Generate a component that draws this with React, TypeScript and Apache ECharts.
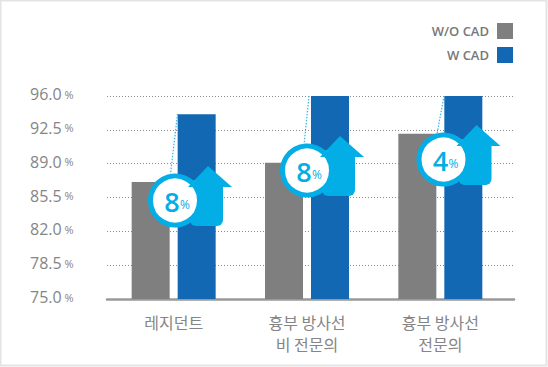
import React, { useEffect, useRef } from "react";
import * as echarts from "echarts";

const categories = ["레지던트", "흉부 방사선\n비 전문의", "흉부 방사선\n전문의"];
const seriesNames = ["W/O CAD", "W CAD"];
const withoutCad = [87.1, 89.1, 92.1];
const withCad = [94.1, 96, 96];
const improvement = ["8", "8", "4"];
const yTicks = [75, 78.5, 82, 85.5, 89, 92.5, 96];

const GRAY = "#807f80";
const BLUE = "#1268b2";
const CYAN = "#03aee6";
const TEXT = "#858585";
const Y_FONT = "'Open Sans', sans-serif";
const KR_FONT = "'Noto Sans CJK KR', sans-serif";

const badgeLayout = [
  { dx: 0, dy: 0, leader: [177.5, 114, 170.5, 174] },
  { dx: 132, dy: -30, leader: [309, 96, 304, 145] },
  { dx: 268.5, dy: -41, leader: [444, 96, 437, 134] },
];

function badge(i: number) {
  const { dx, dy, leader } = badgeLayout[i];
  const z = 100;
  return [
    {
      type: "line",
      silent: true,
      shape: { x1: leader[0], y1: leader[1], x2: leader[2], y2: leader[3] },
      style: { stroke: "#35b4e2", lineWidth: 1.2, lineDash: [1.5, 1.5] },
      z,
    },
    {
      type: "group",
      x: dx,
      y: dy,
      children: [
        { type: "rect", z: z + 1, shape: { x: 190, y: 180, width: 33, height: 46, r: [0, 0, 6, 6] }, style: { fill: CYAN } },
        { type: "circle", z: z + 2, shape: { cx: 175, cy: 200.5, r: 24.5 }, style: { fill: "#fff", stroke: CYAN, lineWidth: 5 } },
        { type: "polygon", z: z + 3, shape: { points: [[208, 166], [232, 187], [188, 187]] }, style: { fill: CYAN } },
        {
          type: "text",
          z: z + 4,
          x: 172,
          y: 201,
          style: {
            text: improvement[i],
            fill: CYAN,
            font: `600 27px ${Y_FONT}`,
            textAlign: "center",
            textVerticalAlign: "middle",
          },
        },
        {
          type: "text",
          z: z + 4,
          x: 185,
          y: 204,
          style: {
            text: "%",
            fill: CYAN,
            font: `400 12px ${Y_FONT}`,
            textAlign: "center",
            textVerticalAlign: "middle",
          },
        },
      ],
    },
  ];
}

export default function App() {
  const ref = useRef<HTMLDivElement>(null);
  useEffect(() => {
    document.body.style.margin = "0";
    const chart = echarts.init(ref.current!, null, { renderer: "svg" });
    chart.setOption({
      animation: false,
      backgroundColor: "#fff",
      grid: [
        { left: 107, top: 96, width: 407, height: 203 },
        { left: 107, top: 96, width: 400, height: 203 },
      ],
      legend: {
        data: seriesNames.map((name) => ({ name, icon: "rect" })),
        orient: "vertical",
        right: 35,
        top: 23,
        padding: 0,
        align: "right",
        itemWidth: 16,
        itemHeight: 16,
        itemGap: 8,
        textStyle: { color: "#777", fontFamily: Y_FONT, fontWeight: 600, fontSize: 13, padding: [0, 3, 0, 0] },
      },
      xAxis: [
        {
          gridIndex: 0,
          type: "value",
          min: 0,
          max: 1,
          axisLine: { show: true, onZero: false, lineStyle: { color: "#999", width: 2.5 } },
          axisTick: { show: false },
          axisLabel: { show: false },
          splitLine: { show: false },
        },
        {
          gridIndex: 1,
          type: "category",
          data: categories,
          axisLine: { show: false },
          axisTick: { show: false },
          axisLabel: {
            margin: 12,
            color: TEXT,
            fontFamily: KR_FONT,
            fontSize: 16,
            lineHeight: 22,
            interval: 0,
          },
        },
      ],
      yAxis: [
        {
          gridIndex: 0,
          type: "value",
          min: 75,
          max: 96,
          axisLine: { show: false },
          axisTick: { show: false, customValues: yTicks },
          splitLine: { show: true, lineStyle: { color: "#8a8a8a", type: [1, 2], width: 1 } },
          axisLabel: {
            customValues: yTicks,
            align: "left",
            margin: 77,
            padding: [0, 0, 4, 0],
            formatter: (v: number) => `{n|${v.toFixed(1)}}{p| %}`,
            rich: {
              n: { fontFamily: Y_FONT, fontSize: 16, color: TEXT },
              p: { fontFamily: Y_FONT, fontSize: 11, color: TEXT },
            },
          },
        },
        {
          gridIndex: 1,
          type: "value",
          min: 75,
          max: 96,
          show: false,
          splitLine: { show: false },
        },
      ],
      series: [
        {
          name: seriesNames[0],
          type: "bar",
          xAxisIndex: 1,
          yAxisIndex: 1,
          data: withoutCad,
          barWidth: 38,
          barGap: "21%",
          itemStyle: { color: GRAY },
        },
        {
          name: seriesNames[1],
          type: "bar",
          xAxisIndex: 1,
          yAxisIndex: 1,
          data: withCad,
          barWidth: 38,
          barGap: "21%",
          itemStyle: { color: BLUE },
        },
      ],
      graphic: [
        {
          type: "rect",
          silent: true,
          z: 0,
          shape: { x: 0.5, y: 0.5, width: 546, height: 365 },
          style: { fill: "none", stroke: "#e4e4e4", lineWidth: 2 },
        },
        ...badge(0),
        ...badge(1),
        ...badge(2),
      ],
    });
    return () => chart.dispose();
  }, []);
  return <div ref={ref} style={{ width: 548, height: 367 }} />;
}
